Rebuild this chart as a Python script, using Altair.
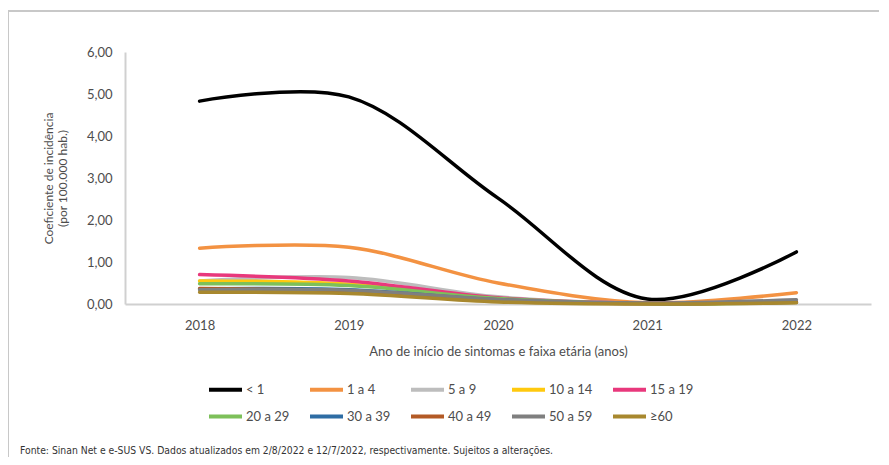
import altair as alt
import pandas as pd

years = ["2018", "2019", "2020", "2021", "2022"]
series_names = ["< 1", "1 a 4", "5 a 9", "10 a 14", "15 a 19",
                "20 a 29", "30 a 39", "40 a 49", "50 a 59", "≥60"]
colors = ["#000000", "#F39242", "#BDBDBD", "#FFC90E", "#E8387C",
          "#7DC05A", "#2E6DA4", "#B35A25", "#7F7F7F", "#A8882E"]

v_lt1 = [4.83, 4.93, 2.52, 0.12, 1.24]
v_1a4 = [1.33, 1.35, 0.50, 0.03, 0.27]
v_5a9 = [0.55, 0.63, 0.17, 0.02, 0.09]
v_10a14 = [0.55, 0.47, 0.12, 0.01, 0.04]
v_15a19 = [0.70, 0.55, 0.15, 0.02, 0.05]
v_20a29 = [0.48, 0.44, 0.13, 0.01, 0.04]
v_30a39 = [0.36, 0.34, 0.10, 0.01, 0.04]
v_40a49 = [0.37, 0.31, 0.08, 0.01, 0.04]
v_50a59 = [0.34, 0.33, 0.11, 0.02, 0.10]
v_60 = [0.28, 0.25, 0.05, 0.00, 0.03]

all_vals = [v_lt1, v_1a4, v_5a9, v_10a14, v_15a19, v_20a29, v_30a39, v_40a49, v_50a59, v_60]

rows = []
for i, (name, vals) in enumerate(zip(series_names, all_vals)):
    for y, v in zip(years, vals):
        rows.append({"ano": y, "faixa": name, "valor": v, "ordem": i})
df = pd.DataFrame(rows)

FONT = "Lato"
TXT = "#4D4D4D"

lines = alt.Chart(df).mark_line(interpolate="catmull-rom", strokeWidth=3.5, strokeCap="round").encode(
    x=alt.X("ano:O", scale=alt.Scale(paddingOuter=0.5, paddingInner=0),
            axis=alt.Axis(title="Ano de início de sintomas e faixa etária (anos)",
                          labelAngle=0, ticks=False, domainColor="#D0D0D0", domainWidth=2,
                          labelPadding=15, titlePadding=13, labelFontSize=13, titleFontSize=13,
                          titleFontWeight="normal", labelColor=TXT, titleColor=TXT,
                          labelFont=FONT, titleFont=FONT)),
    y=alt.Y("valor:Q", scale=alt.Scale(domain=[0, 6]),
            axis=alt.Axis(values=[0, 1, 2, 3, 4, 5, 6], grid=False, ticks=False,
                          domainColor="#D0D0D0", domainWidth=2, labelPadding=13,
                          labelExpr="replace(format(datum.value, '.2f'), '.', ',')",
                          labelFontSize=13, labelColor=TXT, labelFont=FONT,
                          title=["Coeficiente de incidência", "(por 100.000 hab.)"],
                          titleFontSize=12, titleFontWeight="normal", titleColor=TXT,
                          titleFont=FONT, titleX=-77, titleY=126, titleAlign="center",
                          titleBaseline="middle", titleAngle=270)),
    color=alt.Color("faixa:N", sort=series_names,
                    scale=alt.Scale(domain=series_names, range=colors),
                    legend=alt.Legend(title=None, orient="none", legendX=82, legendY=319,
                                      direction="horizontal",
                                      columns=5, gridAlign="all", columnPadding=12,
                                      rowPadding=-10, symbolType="stroke", symbolSize=1089,
                                      symbolStrokeWidth=4, labelFontSize=13, labelColor=TXT,
                                      labelFont=FONT, labelOffset=2)),
    order=alt.Order("ordem:Q"),
    detail="faixa:N",
)

one = pd.DataFrame({"a": [0]})
top_line = alt.Chart(one).mark_rule(color="#C8C8C8", strokeWidth=2).encode(
    x=alt.value(-117), x2=alt.value(770), y=alt.value(-41))
left_line = alt.Chart(one).mark_rule(color="#C8C8C8", strokeWidth=2).encode(
    x=alt.value(-117), y=alt.value(-41), y2=alt.value(420))

footer = alt.Chart(pd.DataFrame({"t": ["Fonte: Sinan Net e e-SUS VS. Dados atualizados em 2/8/2022 e 12/7/2022, respectivamente. Sujeitos a alterações."]})).mark_text(
    align="left", baseline="middle", fontSize=10.3,
    font="'DejaVu Sans Condensed', 'Liberation Sans Narrow', Lato", color="#333333"
).encode(x=alt.value(-105), y=alt.value(399), text="t:N")

chart = alt.layer(top_line, left_line, lines, footer).properties(
    width=746, height=252,
    autosize=alt.AutoSizeParams(type="none"),
    padding={"left": 117, "top": 44, "right": 8, "bottom": 153},
).configure_view(stroke=None)

chart.save("out.html", embed_options={"renderer": "svg", "actions": False})
